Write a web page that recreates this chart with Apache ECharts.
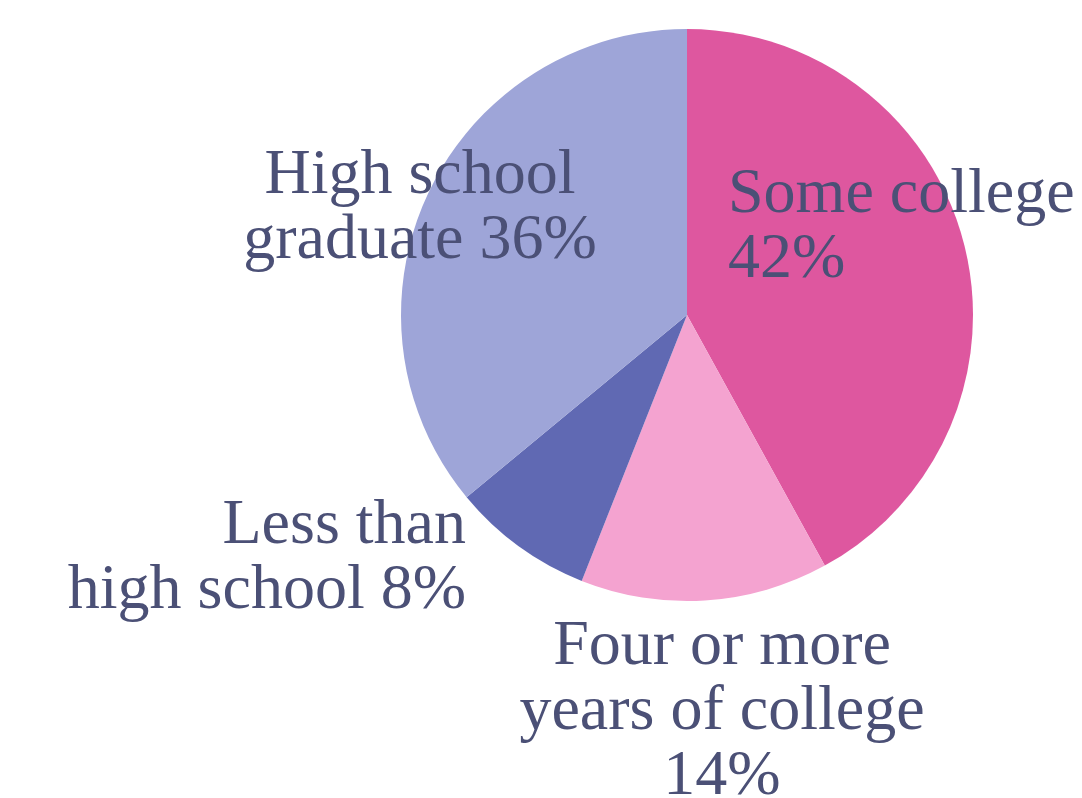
<!DOCTYPE html>
<html>
<head>
<meta charset="utf-8">
<title>Educational attainment</title>
<script src="https://cdn.jsdelivr.net/npm/echarts@6/dist/echarts.min.js"></script>
<style>
  html, body { margin: 0; padding: 0; background: #ffffff; }
  #chart { width: 1082px; height: 798px; }
</style>
</head>
<body>
<div id="chart"></div>
<script>
// Slices in drawing order, clockwise from 12 o'clock
const categories = [
  'Some college',
  'Four or more years of college',
  'Less than high school',
  'High school graduate'
];
const percents = [42, 14, 8, 36];

// How each label's name breaks across lines
const labelLines = [
  ['Some college'],
  ['Four or more', 'years of college'],
  ['Less than', 'high school'],
  ['High school', 'graduate']
];

const sliceColors = ['#de579f', '#f4a3d0', '#6069b3', '#9ea5d8'];

// Label anchors (px) and alignment for each slice
const labelAnchors = [
  { x: 728, y: 228, align: 'left' },
  { x: 722, y: 712, align: 'center' },
  { x: 466, y: 559, align: 'right' },
  { x: 420, y: 209, align: 'center' }
];

function labelText(i) {
  const lines = labelLines[i].slice();
  const pct = percents[i] + '%';
  if (i === 0 || i === 1) {
    lines.push(pct);
  } else {
    lines[lines.length - 1] += ' ' + pct;
  }
  return lines.join('\n');
}

const chart = echarts.init(document.getElementById('chart'), null, { renderer: 'canvas' });

chart.setOption({
  backgroundColor: '#ffffff',
  animation: false,
  series: [{
    type: 'pie',
    center: [687, 315],
    radius: 286,
    startAngle: 90,
    clockwise: true,
    silent: true,
    avoidLabelOverlap: false,
    data: categories.map((name, i) => ({
      name: name,
      value: percents[i],
      itemStyle: { color: sliceColors[i] }
    })),
    itemStyle: { borderWidth: 0 },
    label: {
      show: true,
      position: 'outside',
      alignTo: 'none',
      overflow: 'none',
      width: 600,
      formatter: p => labelText(p.dataIndex),
      fontFamily: '"Liberation Serif", "DejaVu Serif", serif',
      fontSize: 64,
      lineHeight: 65,
      color: '#4b5076'
    },
    labelLine: { show: false },
    labelLayout: function (params) {
      const a = labelAnchors[params.dataIndex];
      return {
        x: a.x,
        y: a.y,
        align: a.align,
        verticalAlign: 'middle',
        hideOverlap: false
      };
    }
  }]
});
</script>
</body>
</html>
